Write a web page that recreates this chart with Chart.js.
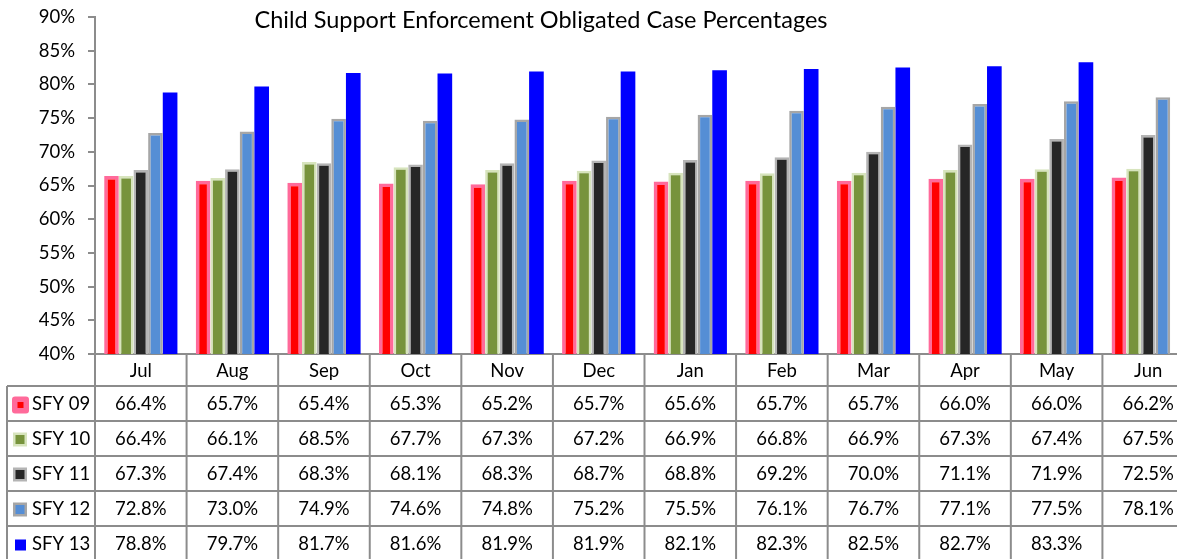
<!DOCTYPE html>
<html><head><meta charset="utf-8">
<script src="https://cdn.jsdelivr.net/npm/chart.js@4"></script>
<style>
html,body{margin:0;padding:0;overflow:hidden;background:#fff;width:1177px;height:559px}
#wrap{width:1200px;height:559px;position:relative}
</style></head>
<body><div id="wrap"><canvas id="c" width="1200" height="559"></canvas></div>
<script>
const chartTitle = 'Child Support Enforcement Obligated Case Percentages';
const months = ['Jul','Aug','Sep','Oct','Nov','Dec','Jan','Feb','Mar','Apr','May','Jun'];
const seriesNames = ['SFY 09','SFY 10','SFY 11','SFY 12','SFY 13'];
const sfy09 = [66.4,65.7,65.4,65.3,65.2,65.7,65.6,65.7,65.7,66.0,66.0,66.2];
const sfy10 = [66.4,66.1,68.5,67.7,67.3,67.2,66.9,66.8,66.9,67.3,67.4,67.5];
const sfy11 = [67.3,67.4,68.3,68.1,68.3,68.7,68.8,69.2,70.0,71.1,71.9,72.5];
const sfy12 = [72.8,73.0,74.9,74.6,74.8,75.2,75.5,76.1,76.7,77.1,77.5,78.1];
const sfy13 = [78.8,79.7,81.7,81.6,81.9,81.9,82.1,82.3,82.5,82.7,83.3,null];
const yMin = 40, yMax = 90, yStep = 5;

const seriesValues = [sfy09, sfy10, sfy11, sfy12, sfy13];
const fills   = ['#FF0000','#77933C','#262626','#558ED5','#0000FF'];
const borders = ['#FF6A9A','#D7E4BD','#B4B4B4','#A6A6A6','#0000FF'];
const bw      = [3.5, 2.5, 2.5, 2.5, 0];
const FONT = 'Lato';
const gridColor = '#8c8c8c';

const titlePlugin = {
  id: 'customTitle',
  afterDraw(chart){
    const ctx = chart.ctx;
    ctx.save();
    ctx.font = '23.5px ' + FONT;
    ctx.fillStyle = '#000';
    ctx.textAlign = 'center';
    ctx.textBaseline = 'middle';
    ctx.fillText(chartTitle, 541, 20);
    ctx.restore();
  }
};

const tablePlugin = {
  id: 'dataTable',
  afterDraw(chart){
    const ctx = chart.ctx, a = chart.chartArea;
    const n = months.length, cw = (a.right - a.left) / n;
    const H = chart.height;
    const headerBottom = a.bottom + 32, rowH = 35, leftX = 7;
    ctx.save();
    ctx.strokeStyle = gridColor; ctx.lineWidth = 2;
    const line = (x1,y1,x2,y2) => { ctx.beginPath(); ctx.moveTo(x1,y1); ctx.lineTo(x2,y2); ctx.stroke(); };
    for (let i = 0; i < seriesNames.length; i++) {
      const y = headerBottom + i * rowH;
      line(leftX, y, a.right, y);
    }
    line(leftX, headerBottom, leftX, H);
    for (let k = 0; k <= n; k++) {
      const x = a.left + k * cw;
      line(x, a.bottom, x, H);
    }
    ctx.font = '18.5px ' + FONT;
    ctx.fillStyle = '#000';
    ctx.textBaseline = 'middle';
    for (let r = 0; r < seriesNames.length; r++) {
      const cy = headerBottom + r * rowH + rowH / 2 + 1;
      if (r === 0) {
        ctx.fillStyle = borders[r];
        ctx.beginPath();
        if (ctx.roundRect) ctx.roundRect(12, cy - 8, 17, 17, 3); else ctx.rect(12, cy - 8, 17, 17);
        ctx.fill();
        ctx.fillStyle = fills[r];
        ctx.fillRect(17.5, cy - 2.5, 6, 6);
      } else if (r === 4) {
        ctx.fillStyle = fills[r];
        ctx.fillRect(15, cy - 5, 11, 11);
      } else {
        ctx.fillStyle = borders[r];
        ctx.fillRect(13, cy - 7, 14, 14);
        ctx.fillStyle = fills[r];
        ctx.fillRect(15.5, cy - 4.5, 9, 9);
      }
      ctx.fillStyle = '#000';
      ctx.textAlign = 'left';
      ctx.fillText(seriesNames[r], 32, cy);
      ctx.textAlign = 'center';
      const vals = seriesValues[r];
      for (let k = 0; k < n; k++) {
        if (vals[k] == null) continue;
        ctx.fillText(vals[k].toFixed(1) + '%', a.left + (k + 0.5) * cw, cy);
      }
    }
    ctx.restore();
  }
};

new Chart(document.getElementById('c'), {
  type: 'bar',
  data: {
    labels: months,
    datasets: seriesNames.map((name, i) => ({
      label: name,
      data: seriesValues[i],
      backgroundColor: fills[i],
      borderColor: borders[i],
      borderWidth: bw[i],
      borderSkipped: false,
      categoryPercentage: 0.8,
      barPercentage: 1.0
    }))
  },
  options: {
    responsive: false,
    animation: false,
    devicePixelRatio: 1,
    layout: { padding: { top: 17, right: 6, left: 0, bottom: 0 } },
    plugins: { legend: { display: false }, tooltip: { enabled: false }, title: { display: false } },
    scales: {
      x: {
        offset: true,
        grid: { display: false, drawTicks: false },
        border: { display: true, color: gridColor, width: 2 },
        ticks: { color: '#000', font: { family: FONT, size: 18.5 }, padding: 6, maxRotation: 0, autoSkip: false },
        afterFit(scale){ scale.height = 205; }
      },
      y: {
        min: yMin, max: yMax,
        ticks: { stepSize: yStep, color: '#000', font: { family: FONT, size: 18.5 }, padding: 13,
                 callback: v => v + '%' },
        grid: { drawOnChartArea: false, drawTicks: true, tickLength: 7, color: gridColor, lineWidth: 2 },
        border: { display: true, color: gridColor, width: 2 },
        afterFit(scale){ scale.width = 95; scale.paddingTop = 0; scale.paddingBottom = 0; }
      }
    }
  },
  plugins: [titlePlugin, tablePlugin]
});
</script>
</body></html>
